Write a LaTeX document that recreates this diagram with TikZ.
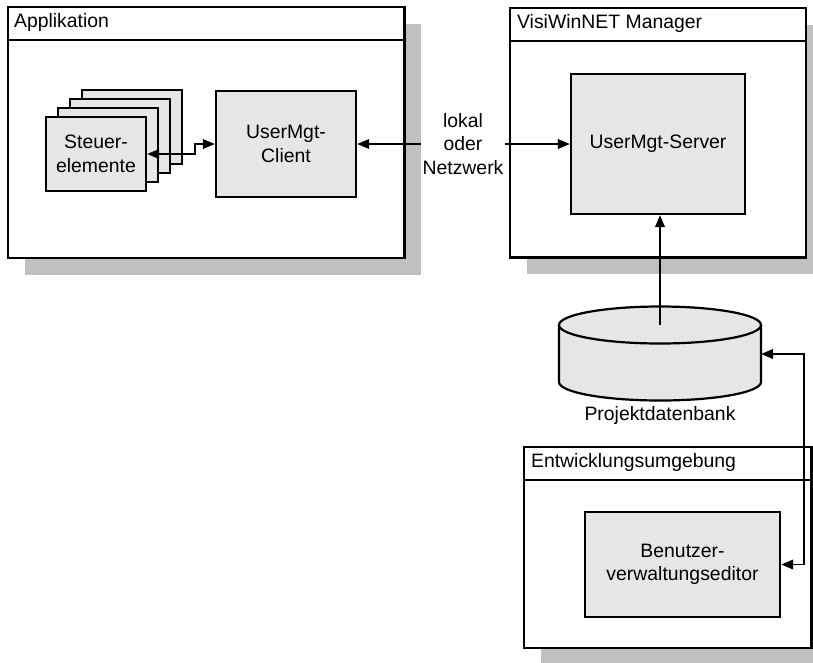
\documentclass[tikz,border=0pt]{standalone}
\usepackage{fontspec}
\setmainfont{Liberation Sans}
\usepackage{tikz}
\usetikzlibrary{calc,arrows.meta,shadows}
\definecolor{box_grey}{HTML}{E6E6E6}
\definecolor{shadow_grey}{HTML}{C0C0C0}
\tikzset{
  frame/.style={draw,line width=2.2pt,fill=white,inner sep=0pt,
    drop shadow={shadow xshift=16.5pt,shadow yshift=-16.5pt,fill=shadow_grey,opacity=1}},
  unit/.style={draw,line width=2.2pt,fill=box_grey,align=center,inner sep=0pt},
  caption/.style={anchor=west,inner sep=0pt},
  link/.style={line width=1.9pt}
}
\begin{document}
\begin{tikzpicture}[x=1pt,y=-1pt,>={Triangle[length=12pt,width=9.5pt]},
    font=\fontsize{19.4}{23.5}\selectfont]
              \useasboundingbox (0,0) rectangle (813,662);
              \node[frame,minimum width=396.5pt,minimum height=251pt] (app) at (206.25,132.5) {};
              \draw[line width=2.2pt] ($(app.north west)+(0,34)$) -- ($(app.north east)+(0,34)$);
              \node[caption] at ($(app.north west)+(7,17)$) {Applikation};
              \foreach \i in {3,2,1} {
                \node[unit,minimum width=100pt,minimum height=74pt] (st\i) at ({96+12*\i},{154-9*\i}) {};
              }
              \node[unit,minimum width=100pt,minimum height=74pt] (st0) at (96,154) {Steuer-\\elemente};
              \node[unit,minimum width=140pt,minimum height=106pt] (client) at (286,144) {UserMgt-\\Client};
              \draw[link,<->] (st0.east) -- ++(48,0) |- (client.west);
              \node[frame,minimum width=296pt,minimum height=249.5pt] (mgr) at (658,132.75) {};
              \draw[line width=2.2pt] ($(mgr.north west)+(0,34)$) -- ($(mgr.north east)+(0,34)$);
              \node[caption] at ($(mgr.north west)+(8,17)$) {VisiWinNET Manager};
              \node[unit,minimum width=174pt,minimum height=140pt] (server) at (658,144) {UserMgt-Server};
              \node[fill=white,inner sep=1pt,align=center] (net) at (463,144) {lokal\\oder\\Netzwerk};
              \draw[link,<-] (client.east) -- (net.west);
              \draw[link,->] (net.east) -- (server.west);
              \coordinate (db) at (660,325);
              \draw[line width=2.2pt,fill=box_grey] (559,325) -- (559,382) arc[start angle=180,end angle=0,x radius=101,y radius=18.5] -- (761,325);
              \draw[line width=2.2pt,fill=box_grey] (db) ellipse [x radius=101,y radius=18.5];
              \node (dbname) at (660,415) {Projektdatenbank};
              \coordinate (dbport) at (761,354);
              \draw[link,->] (db) -- (db |- server.south);
              \node[frame,minimum width=287.5pt,minimum height=201pt] (ide) at (667.75,547.5) {};
              \draw[line width=2.2pt] ($(ide.north west)+(0,34)$) -- ($(ide.north east)+(0,34)$);
              \node[caption] at ($(ide.north west)+(8,17)$) {Entwicklungsumgebung};
              \node[unit,minimum width=195pt,minimum height=105pt] (editor) at (682.5,564.5) {Benutzer-\\verwaltungseditor};
              \draw[link,<->] (editor.east) -- ++(23,0) |- (dbport);
\end{tikzpicture}
\end{document}
